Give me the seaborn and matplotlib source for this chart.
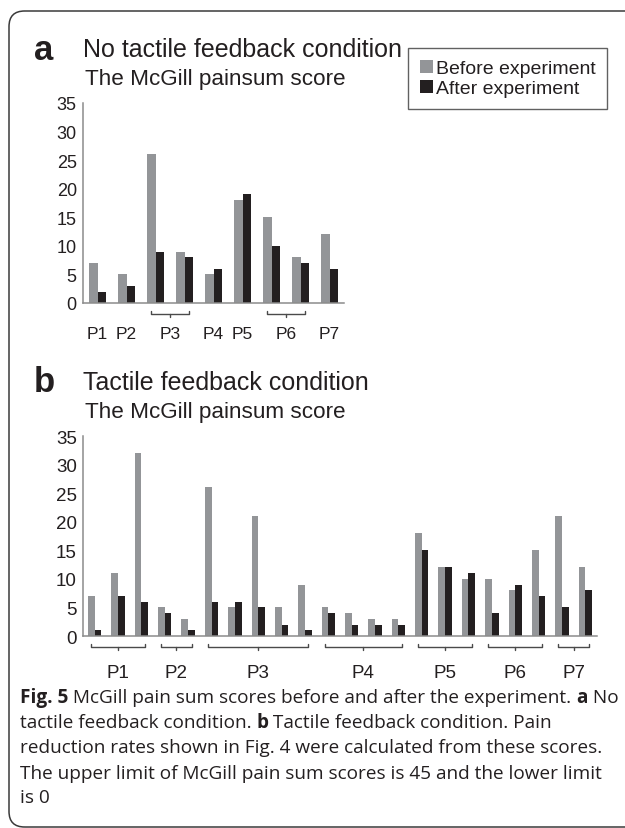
import numpy as np
import pandas as pd
import matplotlib
matplotlib.use("Agg")
import matplotlib.pyplot as plt
from matplotlib.patches import FancyBboxPatch, Patch
import seaborn as sns

# ---------------- data ----------------
series_names = ["Before experiment", "After experiment"]

a_groups = ["P1", "P2", "P3", "P4", "P5", "P6", "P7"]
a_group_sizes = [1, 1, 2, 1, 1, 2, 1]
a_before = [7, 5, 26, 9, 5, 18, 15, 8, 12]
a_after = [2, 3, 9, 8, 6, 19, 10, 7, 6]

b_groups = ["P1", "P2", "P3", "P4", "P5", "P6", "P7"]
b_group_sizes = [3, 2, 5, 4, 3, 3, 2]
b_before = [7, 11, 32, 5, 3, 26, 5, 21, 5, 9, 5, 4, 3, 3, 18, 12, 10, 10, 8, 15, 21, 12]
b_after = [1, 7, 6, 4, 1, 6, 6, 5, 2, 1, 4, 2, 2, 2, 15, 12, 11, 4, 9, 7, 5, 8]

y_ticks = [0, 5, 10, 15, 20, 25, 30, 35]

# ---------------- style ----------------
sns.set_style("white")
SANS = ["Liberation Sans", "DejaVu Sans"]
plt.rcParams["font.family"] = SANS

GRAY = "#939598"
BLACK = "#231f20"
AXIS = "#8c8c8c"
TEXT = "#231f20"

W, H = 625, 829
fig = plt.figure(figsize=(W / 100, H / 100), dpi=100)
fig.patch.set_facecolor("white")


def fx(px):
    return px / W


def fy(py):
    return 1 - py / H


# rounded border (right side runs off the figure)
border = FancyBboxPatch((fx(9), fy(828)), fx(700) - fx(9), fy(12) - fy(828),
                        boxstyle="round,pad=0,rounding_size=0.025",
                        transform=fig.transFigure, fill=False,
                        edgecolor="#3a3a3a", linewidth=1.1, mutation_aspect=W / H)
fig.patches.append(border)


def make_panel(rect, before, after, groups, sizes, tick_fs, lab_fs, lab_y):
    ax = fig.add_axes(rect)
    n = len(before)
    df = pd.DataFrame({
        "slot": list(range(n)) * 2,
        "score": before + after,
        "when": [series_names[0]] * n + [series_names[1]] * n,
    })
    sns.barplot(data=df, x="slot", y="score", hue="when", hue_order=series_names,
                palette=[GRAY, BLACK], width=0.57, saturation=1, errorbar=None,
                legend=False, linewidth=0, ax=ax)
    ax.set_xlim(-0.5, n - 0.5)
    ax.set_ylim(0, 35)
    ax.set_yticks(y_ticks)
    ax.set_yticklabels([str(v) for v in y_ticks], fontsize=tick_fs, color=TEXT, family=SANS)
    ax.set_xticks(np.arange(-0.5, n, 1.0))
    ax.set_xticklabels([])
    ax.set_xlabel("")
    ax.set_ylabel("")
    for s in ["top", "right"]:
        ax.spines[s].set_visible(False)
    for s in ["left", "bottom"]:
        ax.spines[s].set_color(AXIS)
        ax.spines[s].set_linewidth(1.1)
    ax.tick_params(axis="both", direction="out", color=AXIS, width=1.0)
    ax.tick_params(axis="x", length=3.5)
    ax.tick_params(axis="y", length=2.5, pad=2)
    ax.set_facecolor("none")

    tr = ax.get_xaxis_transform()
    start = 0
    for g, sz in zip(groups, sizes):
        first, last = start, start + sz - 1
        center = (first + last) / 2
        if sz > 1:
            x0, x1 = first - 0.15, last + 0.15
            yb = -0.055
            ax.plot([x0, x0, x1, x1], [yb + 0.015, yb, yb, yb + 0.015],
                    transform=tr, clip_on=False, color="#4a4a4a", lw=1.0)
            ax.plot([center, center], [yb, yb - 0.015], transform=tr,
                    clip_on=False, color="#4a4a4a", lw=1.0)
        ax.text(center, lab_y, g, transform=tr, ha="center", va="center",
                fontsize=lab_fs, color=TEXT, family=SANS)
        start += sz
    return ax


ax_a = make_panel([fx(83), fy(304), (344 - 83) / W, 200 / H],
                  a_before, a_after, a_groups, a_group_sizes, 13, 12.5, -0.155)
ax_b = make_panel([fx(83), fy(637), (597 - 83) / W, 200 / H],
                  b_before, b_after, b_groups, b_group_sizes, 13.5, 13.5, -0.18)

# panel titles
fig.text(fx(34), fy(50), "a", fontsize=25, fontweight="bold", color=TEXT, va="center", ha="left", family=SANS)
fig.text(fx(83), fy(50), "No tactile feedback condition", fontsize=18, color=TEXT, va="center", ha="left", family=SANS)
fig.text(fx(85), fy(80), "The McGill painsum score", fontsize=16.2, color=TEXT, va="center", ha="left", family=SANS)

fig.text(fx(34), fy(383), "b", fontsize=25, fontweight="bold", color=TEXT, va="center", ha="left", family=SANS)
fig.text(fx(83), fy(383), "Tactile feedback condition", fontsize=18, color=TEXT, va="center", ha="left", family=SANS)
fig.text(fx(85), fy(413), "The McGill painsum score", fontsize=16.2, color=TEXT, va="center", ha="left", family=SANS)

# legend
handles = [Patch(facecolor=GRAY, edgecolor="none", label=series_names[0]),
           Patch(facecolor=BLACK, edgecolor="none", label=series_names[1])]
leg = fig.legend(handles=handles, loc="upper right", bbox_to_anchor=(fx(607), fy(49)),
                 frameon=True, fancybox=False, prop={"family": SANS, "size": 14},
                 handlelength=0.65, handleheight=0.65, handletextpad=0.15,
                 labelspacing=0.15, borderpad=0.6, borderaxespad=0)
leg.get_frame().set_edgecolor("#3a3a3a")
leg.get_frame().set_linewidth(1.0)
for t in leg.get_texts():
    t.set_color(TEXT)

# caption with mixed bold runs
cap_lines = [
    [("Fig. 5", True), (" McGill pain sum scores before and after the experiment. ", False), ("a", True), (" No", False)],
    [("tactile feedback condition. ", False), ("b", True), (" Tactile feedback condition. Pain", False)],
    [("reduction rates shown in Fig. 4 were calculated from these scores.", False)],
    [("The upper limit of McGill pain sum scores is 45 and the lower limit", False)],
    [("is 0", False)],
]
cap_y = [698, 723, 748, 774, 798]
cap_font = ["Open Sans", "DejaVu Sans"]

renderer = fig.canvas.get_renderer()


def run_width(runs, size):
    w = 0
    for txt, bold in runs:
        t = fig.text(0, 0, txt, fontsize=size, family=cap_font,
                     fontweight="bold" if bold else "normal")
        w += t.get_window_extent(renderer).width
        t.remove()
    return w


base = 12
target = 615 - 20
cap_size = base * target / run_width(cap_lines[0], base)

for runs, yy in zip(cap_lines, cap_y):
    x = 20
    for txt, bold in runs:
        t = fig.text(fx(x), fy(yy), txt, fontsize=cap_size, family=cap_font,
                     fontweight="bold" if bold else "normal", color=TEXT,
                     va="center", ha="left")
        x += t.get_window_extent(renderer).width

fig.savefig("out.png", dpi=100, facecolor="white")
